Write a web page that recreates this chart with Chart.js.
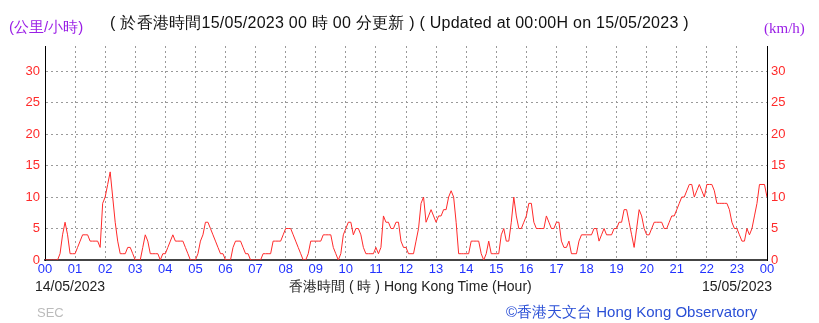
<!DOCTYPE html>
<html>
<head>
<meta charset="utf-8">
<script src="https://cdn.jsdelivr.net/npm/chart.js@4/dist/chart.umd.min.js"></script>
<style>
  body { margin: 0; background: #fff; }
  #wrap { position: relative; width: 819px; height: 323px; font-family: "Liberation Sans", Arial, sans-serif; }
  #wrap div.t { position: absolute; white-space: nowrap; line-height: 1; }
  canvas { position: absolute; left: 0; top: 0; }
</style>
</head>
<body>
<div id="wrap">
  <canvas id="chartWind" width="819" height="323"></canvas>
  <div class="t" style="left:9px; top:19px; font-size:15px; color:#9a1ee6;">(公里/小時)</div>
  <div class="t" style="left:110px; top:15px; font-size:16px; color:#111; letter-spacing:0.25px;">( 於香港時間15/05/2023 00 時 00 分更新 ) ( Updated at 00:00H on 15/05/2023 )</div>
  <div class="t" style="left:764px; top:21px; font-size:15px; color:#9a1ee6; font-family:'Liberation Serif',serif;">(km/h)</div>
  <div class="t" style="left:35px; top:279px; font-size:14px; color:#222;">14/05/2023</div>
  <div class="t" style="left:289px; top:279px; font-size:14px; color:#222;">香港時間 ( 時 ) Hong Kong Time (Hour)</div>
  <div class="t" style="right:47px; top:279px; font-size:14px; color:#222;">15/05/2023</div>
  <div class="t" style="left:37px; top:306px; font-size:13px; color:#bbb;">SEC</div>
  <div class="t" style="left:506px; top:304px; font-size:15px; color:#2a4fd6;">©香港天文台 Hong Kong Observatory</div>
</div>
<script>
// 5-minute wind speed (km/h), 00:00 14/05 to 00:00 15/05
const speed00to06 = [0,0,0,0,0,0, 1,4,6,4,1,1, 1,2,3,4,4,4, 3,3,3,3,2,9,
                     10,12,14,10,6,3, 1,1,1,2,2,1, 0,0,0,2,4,3, 1,1,1,1,0,1,
                     1,2,3,4,3,3, 3,3,2,1,0,0, 0,1,3,4,6,6, 5,4,3,2,1,1]
const speed06to12 = [0,0,0,2,3,3, 3,2,1,1,0,0, 0,0,0,1,1,1, 1,3,3,3,3,4,
                     5,5,5,4,3,2, 1,0,0,1,3,3, 3,3,3,4,4,4, 4,2,1,0,1,4,
                     5,6,6,4,5,5, 4,2,1,1,1,1, 2,1,2,7,6,6, 5,5,6,6,3,2]
const speed12to18 = [2,1,1,1,3,5, 9,10,6,7,8,7, 6,7,7,8,8,10, 11,10,6,1,1,1,
                     1,1,3,3,3,3, 1,0,1,3,1,1, 1,1,4,5,3,3, 6,10,7,5,5,6,
                     7,9,9,6,5,5, 5,5,7,6,5,5, 6,6,3,2,2,3, 1,1,1,3,4,4]
const speed18to24 = [4,4,4,5,5,3, 4,5,4,4,4,5, 5,6,6,8,8,6, 4,2,5,8,7,5,
                     4,4,5,6,6,6, 6,5,5,6,7,7, 8,9,10,10,11,12, 12,10,11,12,11,10,
                     12,12,12,11,9,9, 9,9,9,8,6,5, 5,4,3,3,5,4, 5,7,9,12,12,12, 10]

const hourLabels = ['00','01','02','03','04','05','06','07','08','09','10','11','12',
                    '13','14','15','16','17','18','19','20','21','22','23','00']
const speedTicks = [0, 5, 10, 15, 20, 25, 30]

document.addEventListener('DOMContentLoaded', function() {

    const speeds = [].concat(speed00to06, speed06to12, speed12to18, speed18to24)
    const points = speeds.map((v, i) => ({ x: i / 12, y: v }))

    const tickFont = { family: '"Liberation Sans", Arial, sans-serif', size: 13 }

    const keepFives = (axis) => {
        axis.ticks = speedTicks.map(v => ({ value: v }))
    }

    new Chart(document.getElementById('chartWind').getContext('2d'), {
        type: 'line',
        data: {
            datasets: [{
                data: points,
                borderColor: '#ff2a2a',
                borderWidth: 1,
                pointRadius: 0,
                tension: 0,
                fill: false
            }]
        },
        options: {
            responsive: false,
            animation: false,
            layout: { padding: { top: 46, left: 0, right: 0, bottom: 0 } },
            plugins: { legend: { display: false }, tooltip: { enabled: false } },
            scales: {
                x: {
                    type: 'linear',
                    min: 0,
                    max: 24,
                    afterFit: (s) => { s.height = 63 },
                    afterBuildTicks: (axis) => { axis.ticks = hourLabels.map((l, i) => ({ value: i })) },
                    ticks: {
                        color: '#2233ff',
                        font: tickFont,
                        padding: 2,
                        maxRotation: 0,
                        autoSkip: false,
                        callback: (v) => hourLabels[v]
                    },
                    grid: { color: '#9a9a9a', drawTicks: false, lineWidth: 1 },
                    border: { color: '#444', width: 2, dash: [2, 3] }
                },
                y: {
                    position: 'left',
                    min: 0,
                    max: 34,
                    afterFit: (s) => { s.width = 45 },
                    afterBuildTicks: keepFives,
                    ticks: { color: '#ff2a2a', font: tickFont, padding: 5 },
                    grid: { color: '#9a9a9a', drawTicks: false },
                    border: { color: '#000', width: 1, dash: [2, 3] }
                },
                y2: {
                    position: 'right',
                    min: 0,
                    max: 34,
                    afterFit: (s) => { s.width = 52 },
                    afterBuildTicks: keepFives,
                    ticks: { color: '#ff2a2a', font: tickFont, padding: 4 },
                    grid: { display: false, drawTicks: false },
                    border: { color: '#000', width: 1 }
                }
            }
        }
    })
})
</script>
</body>
</html>
